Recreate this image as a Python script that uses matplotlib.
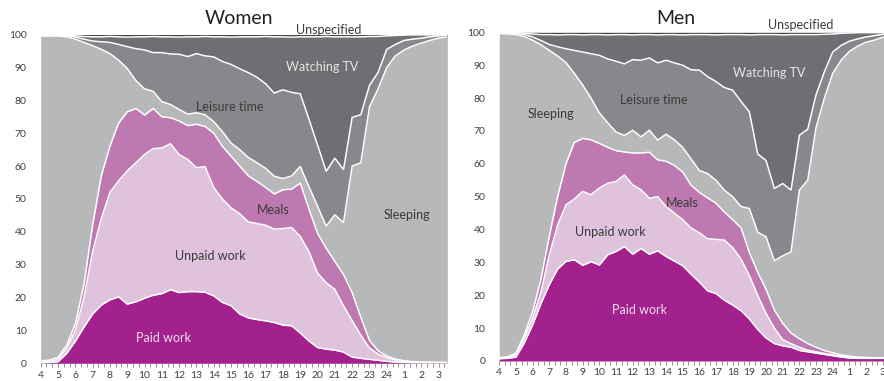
import numpy as np
import matplotlib.pyplot as plt

plt.rcParams['font.family'] = ['Lato', 'DejaVu Sans']

# Time of day in hours (4:00 ... 3:30 next day), half-hour steps
hours = np.arange(4.0, 27.75, 0.5)
hour_ticks = list(range(4, 28))
hour_labels = [str(h) for h in range(4, 25)] + ['1', '2', '3']

# Cumulative share of people (%) at the upper edge of each activity band
w_paid = [0.1, 0.2, 0.5, 3.0, 6.7, 11.0, 15.0, 17.7, 19.3, 20.2, 18.0, 18.7,
          19.8, 20.7, 21.2, 22.4, 21.5, 21.8, 21.8, 21.6, 20.5, 18.5, 17.5, 15.0,
          13.8, 13.3, 12.9, 12.4, 11.6, 11.4, 9.2, 6.8, 4.8, 4.3, 4.0, 3.4,
          1.9, 1.5, 1.2, 0.9, 0.6, 0.35, 0.2, 0.15, 0.1, 0.1, 0.1, 0.1]
w_unpaid = [0.4, 0.6, 1.2, 4.5, 10.0, 20.0, 34.0, 44.0, 52.0, 55.5, 58.5, 61.0,
            63.5, 65.3, 65.5, 66.8, 63.5, 62.0, 59.5, 59.8, 53.5, 50.0, 47.3, 45.5,
            43.0, 42.5, 42.0, 40.8, 41.0, 41.3, 38.6, 34.0, 27.5, 24.5, 22.5, 17.5,
            13.0, 8.5, 4.7, 2.8, 1.7, 1.0, 0.6, 0.4, 0.3, 0.25, 0.25, 0.25]
w_meals = [0.7, 1.0, 1.8, 5.5, 12.0, 24.0, 42.0, 57.0, 66.0, 73.0, 76.5, 77.5,
           75.5, 77.5, 75.0, 74.7, 73.7, 72.3, 72.7, 72.0, 70.0, 66.0, 63.0, 60.0,
           57.0, 55.3, 53.5, 51.5, 52.8, 53.0, 54.8, 47.0, 39.5, 35.0, 31.0, 27.0,
           21.5, 14.0, 7.0, 3.8, 2.2, 1.3, 0.8, 0.5, 0.4, 0.35, 0.3, 0.3]
w_sleep = [99.5, 99.5, 99.5, 99.3, 98.6, 97.6, 96.6, 95.5, 94.2, 92.2, 89.7, 86.0,
           83.5, 82.7, 79.6, 78.7, 77.2, 75.8, 76.2, 75.6, 73.5, 70.5, 67.0, 65.0,
           62.6, 61.0, 59.3, 56.9, 56.2, 57.0, 59.9, 53.8, 47.8, 41.7, 45.2, 42.8,
           60.0, 61.0, 78.0, 83.5, 90.0, 93.5, 95.3, 96.5, 97.4, 98.2, 98.9, 99.3]
w_leisure = [99.8, 99.8, 99.8, 99.7, 99.2, 98.6, 98.0, 97.8, 97.6, 97.0, 96.3, 95.7,
             95.3, 94.5, 94.5, 94.1, 94.0, 93.3, 94.2, 93.5, 93.2, 91.8, 90.9, 89.6,
             88.4, 87.0, 85.0, 82.2, 83.2, 82.4, 82.0, 74.3, 66.4, 58.4, 62.4, 58.9,
             74.8, 75.6, 84.5, 88.5, 95.5, 97.0, 98.2, 98.6, 98.9, 99.3, 99.6, 99.8]
w_tv = [99.9, 99.9, 99.9, 99.8, 99.6, 99.4, 99.3, 99.3, 99.4, 99.3, 99.2, 99.3,
        99.3, 99.4, 99.3, 99.3, 99.2, 99.3, 99.3, 99.4, 99.3, 99.3, 99.2, 99.3,
        99.3, 99.3, 99.4, 99.3, 99.3, 99.2, 99.3, 99.3, 99.3, 99.4, 99.3, 99.3,
        99.3, 99.3, 99.4, 99.4, 99.6, 99.7, 99.8, 99.9, 99.9, 99.9, 99.9, 99.9]

m_paid = [0.7, 0.8, 1.2, 5.5, 11.0, 17.5, 23.2, 28.0, 30.3, 30.8, 29.1, 30.2,
          29.2, 32.3, 33.3, 34.8, 32.5, 34.2, 32.5, 33.5, 31.8, 30.4, 29.0, 26.4,
          24.0, 21.3, 20.5, 18.5, 17.0, 15.3, 12.8, 9.6, 7.0, 5.3, 4.6, 4.2,
          3.2, 2.8, 2.4, 2.0, 1.6, 1.2, 0.9, 0.8, 0.8, 0.8, 0.8, 0.8]
m_unpaid = [0.9, 1.1, 2.0, 7.0, 13.0, 21.0, 32.3, 41.4, 47.5, 49.3, 51.6, 50.6,
            52.6, 54.1, 54.6, 56.6, 53.6, 52.1, 49.5, 50.0, 47.0, 45.0, 43.0, 40.5,
            39.0, 37.2, 37.0, 36.8, 34.5, 31.0, 26.0, 20.0, 14.5, 10.0, 6.5, 5.3,
            4.2, 3.3, 2.8, 2.3, 1.9, 1.5, 1.2, 1.0, 0.9, 0.9, 0.9, 0.9]
m_meals = [1.0, 1.3, 2.4, 8.0, 15.0, 25.0, 38.0, 50.0, 60.0, 66.5, 67.7, 67.3,
           66.2, 65.0, 64.0, 63.6, 63.3, 63.3, 63.5, 61.2, 60.8, 59.5, 57.5, 53.5,
           51.3, 49.6, 48.0, 45.3, 43.0, 40.5, 33.0, 27.0, 21.8, 15.5, 11.5, 8.5,
           6.8, 5.3, 4.2, 3.2, 2.5, 1.9, 1.5, 1.2, 1.1, 1.0, 1.0, 1.0]
m_sleep = [99.6, 99.5, 99.3, 98.7, 97.6, 96.2, 94.5, 92.8, 90.8, 87.5, 84.0, 80.0,
           75.5, 72.5, 69.7, 68.6, 70.2, 68.2, 70.2, 67.2, 69.0, 67.3, 65.0, 61.5,
           58.0, 57.0, 55.0, 52.0, 50.0, 47.0, 46.4, 39.2, 37.8, 30.5, 32.0, 33.2,
           52.0, 55.0, 71.0, 80.0, 87.5, 91.5, 94.2, 95.8, 97.0, 97.6, 98.5, 99.0]
m_leisure = [99.9, 99.9, 99.7, 99.3, 98.6, 97.5, 96.3, 95.6, 95.0, 94.5, 94.0, 93.5,
             93.0, 91.9, 91.2, 90.4, 91.7, 91.5, 92.2, 90.7, 91.5, 90.7, 90.0, 88.6,
             88.5, 86.5, 85.0, 83.2, 82.4, 79.0, 75.8, 63.0, 61.0, 52.5, 54.0, 52.0,
             68.7, 70.5, 81.0, 88.0, 94.0, 96.0, 97.3, 98.0, 98.6, 99.0, 99.4, 99.7]
m_tv = [99.9, 99.9, 99.9, 99.7, 99.5, 99.3, 99.3, 99.2, 99.3, 99.3, 99.2, 99.3,
        99.3, 99.2, 99.3, 99.3, 99.2, 99.3, 99.3, 99.2, 99.3, 99.3, 99.2, 99.3,
        99.3, 99.3, 99.2, 99.3, 99.3, 99.3, 99.2, 99.3, 99.3, 99.3, 99.2, 99.3,
        99.3, 99.3, 99.3, 99.4, 99.5, 99.7, 99.8, 99.9, 99.9, 99.9, 99.9, 99.9]
total = [100.0] * len(hours)

band_colors = ['#A2218D', '#DFC3DD', '#BF79B1', '#B7B8BA',
               '#87888B', '#6E6F72', '#48484A']

W, H = 884, 381
fig = plt.figure(figsize=(W / 100, H / 100), dpi=100)


def px_box(left, top, right, bottom):
    return [left / W, 1 - bottom / H, (right - left) / W, (bottom - top) / H]


def draw_panel(ax, levels):
    lower = np.zeros(len(hours))
    for top, color in zip(levels, band_colors):
        ax.fill_between(hours, lower, top, color=color, lw=0, zorder=1)
        lower = np.asarray(top)
    for top in levels[:-1]:
        ax.plot(hours, top, color='white', lw=1.05, zorder=2,
                solid_joinstyle='miter')
    ax.set_xlim(4, 27.5)
    ax.set_ylim(0, 100)
    for s in ax.spines.values():
        s.set_visible(False)
    ax.set_yticks(range(0, 101, 10))
    ax.set_xticks(hour_ticks)
    ax.set_xticklabels(hour_labels)
    ax.set_xticks(np.arange(4, 27.6, 1 / 3), minor=True)
    ax.tick_params(axis='y', length=0, pad=10, labelsize=7.5,
                   labelcolor='#404040')
    ax.tick_params(axis='x', which='both', length=2.6, width=0.6,
                   color='#808080', direction='out')
    ax.tick_params(axis='x', which='major', pad=2.6, labelsize=7.5,
                   labelcolor='#404040')


ax_w = fig.add_axes(px_box(40.7, 34.5, 447.3, 363.3))
draw_panel(ax_w, [w_paid, w_unpaid, w_meals, w_sleep, w_leisure, w_tv, total])

ax_m = fig.add_axes(px_box(499.3, 32.3, 499.3 + 23.5 * 16.67, 361.0))
draw_panel(ax_m, [m_paid, m_unpaid, m_meals, m_sleep, m_leisure, m_tv, total])


def label(x, y, text, color='#3A3A3A', size=9):
    fig.text(x / W, 1 - y / H, text, ha='center', va='center',
             color=color, fontsize=size)


label(238.5, 19, 'Women', color='#222222', size=14)
label(675.5, 19, 'Men', color='#222222', size=14)

light = '#E6E6E6'
pink_text = '#F3DDEF'
for x, y, t, c in [(329, 29.5, 'Unspecified', None),
                   (322.5, 66.7, 'Watching TV', light),
                   (230, 106.7, 'Leisure time', None),
                   (273, 210, 'Meals', None),
                   (406.7, 215, 'Sleeping', None),
                   (210, 256, 'Unpaid work', None),
                   (164, 337.5, 'Paid work', pink_text),
                   (800.8, 25, 'Unspecified', None),
                   (769.5, 73, 'Watching TV', light),
                   (654, 100, 'Leisure time', None),
                   (551, 113.5, 'Sleeping', None),
                   (682.5, 203, 'Meals', None),
                   (610, 232, 'Unpaid work', None),
                   (639, 310, 'Paid work', pink_text)]:
    label(x, y, t, color=c or '#3A3A3A')

fig.savefig('out.png', dpi=100)
